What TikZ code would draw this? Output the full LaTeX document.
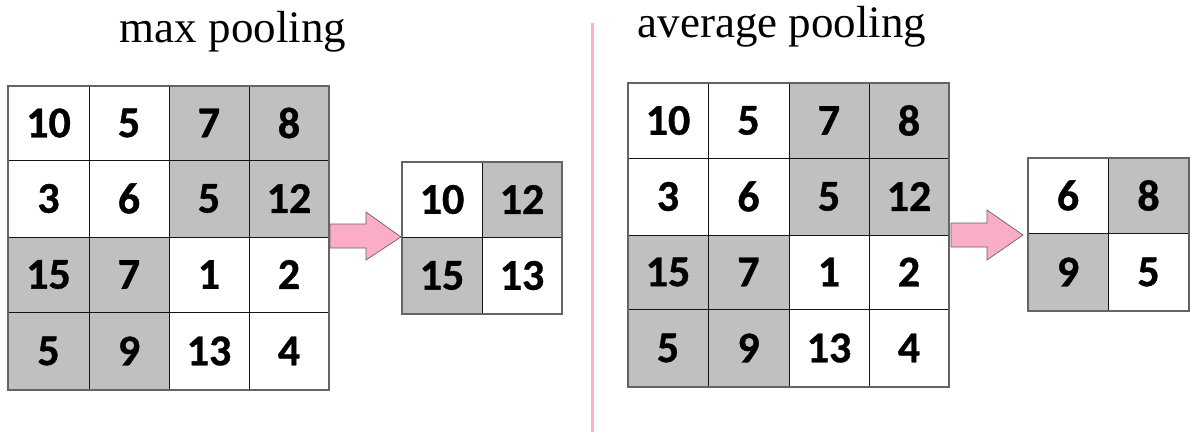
\documentclass[tikz,border=0pt]{standalone}
\usepackage{fontspec}
\setmainfont{Liberation Serif}
\newfontfamily\numfont{Carlito}[BoldFeatures={FakeBold=0.8}]
\definecolor{cellgray}{RGB}{192,192,192}
\definecolor{gridline}{RGB}{20,20,20}
\definecolor{borderline}{RGB}{100,100,100}
\definecolor{arrowpink}{RGB}{250,172,200}
\definecolor{divpink}{RGB}{255,176,202}
\newcommand{\gcell}[7]{\node[cellst,fill=#6,minimum width={#4pt-#2pt},minimum height={#5pt-#3pt}] (#1) at ({(#2+#4)/2},{(#3+#5)/2}) {#7};}
\begin{document}
\begin{tikzpicture}[x=1pt,y=-1pt,
  cellst/.style={draw=gridline,line width=0.8pt,inner sep=0pt,outer sep=0pt,font=\numfont\bfseries\fontsize{44}{44}\selectfont},
  border/.style={draw=borderline,line width=1.6pt},
  title/.style={anchor=base,inner sep=0pt,font=\fontsize{45}{45}\selectfont},
  pinkarrow/.style={fill=arrowpink,draw=borderline,line width=0.7pt,line join=miter}]
\useasboundingbox (0,0) rectangle (1192,432);
% titles
\node[title] (t1) at (233,42) {max pooling};
\node[title] (t2) at (782,37) {average pooling};
% divider
\coordinate (d1) at (592,23);
\coordinate (d2) at (592,432);
\draw[divpink,line width=3pt] (d1) -- (d2);
% left input grid
\gcell{a11}{8}{86}{89}{160}{white}{10}
\gcell{a12}{89}{86}{169}{160}{white}{5}
\gcell{a13}{169}{86}{249}{160}{cellgray}{7}
\gcell{a14}{249}{86}{329}{160}{cellgray}{8}
\gcell{a21}{8}{160}{89}{237}{white}{3}
\gcell{a22}{89}{160}{169}{237}{white}{6}
\gcell{a23}{169}{160}{249}{237}{cellgray}{5}
\gcell{a24}{249}{160}{329}{237}{cellgray}{12}
\gcell{a31}{8}{237}{89}{312}{cellgray}{15}
\gcell{a32}{89}{237}{169}{312}{cellgray}{7}
\gcell{a33}{169}{237}{249}{312}{white}{1}
\gcell{a34}{249}{237}{329}{312}{white}{2}
\gcell{a41}{8}{312}{89}{390}{cellgray}{5}
\gcell{a42}{89}{312}{169}{390}{cellgray}{9}
\gcell{a43}{169}{312}{249}{390}{white}{13}
\gcell{a44}{249}{312}{329}{390}{white}{4}
\draw[border] (a11.north west) rectangle (a44.south east);
% left output
\gcell{m11}{402}{162}{482}{237}{white}{10}
\gcell{m12}{482}{162}{562}{237}{cellgray}{12}
\gcell{m21}{402}{237}{482}{314}{cellgray}{15}
\gcell{m22}{482}{237}{562}{314}{white}{13}
\draw[border] (m11.north west) rectangle (m22.south east);
% left arrow
\draw[pinkarrow] (330,224) -- (366,224) -- (366,212) -- (401,237) -- (366,260) -- (366,248) -- (330,248) -- cycle;
% right input grid
\gcell{b11}{628}{83}{708}{158}{white}{10}
\gcell{b12}{708}{83}{789}{158}{white}{5}
\gcell{b13}{789}{83}{869}{158}{cellgray}{7}
\gcell{b14}{869}{83}{949}{158}{cellgray}{8}
\gcell{b21}{628}{158}{708}{235}{white}{3}
\gcell{b22}{708}{158}{789}{235}{white}{6}
\gcell{b23}{789}{158}{869}{235}{cellgray}{5}
\gcell{b24}{869}{158}{949}{235}{cellgray}{12}
\gcell{b31}{628}{235}{708}{309}{cellgray}{15}
\gcell{b32}{708}{235}{789}{309}{cellgray}{7}
\gcell{b33}{789}{235}{869}{309}{white}{1}
\gcell{b34}{869}{235}{949}{309}{white}{2}
\gcell{b41}{628}{309}{708}{387}{cellgray}{5}
\gcell{b42}{708}{309}{789}{387}{cellgray}{9}
\gcell{b43}{789}{309}{869}{387}{white}{13}
\gcell{b44}{869}{309}{949}{387}{white}{4}
\draw[border] (b11.north west) rectangle (b44.south east);
% right output
\gcell{v11}{1028}{158}{1108}{233}{white}{6}
\gcell{v12}{1108}{158}{1189}{233}{cellgray}{8}
\gcell{v21}{1028}{233}{1108}{311}{cellgray}{9}
\gcell{v22}{1108}{233}{1189}{311}{white}{5}
\draw[border] (v11.north west) rectangle (v22.south east);
% right arrow
\draw[pinkarrow] (951,223) -- (987,223) -- (987,210) -- (1023,235) -- (987,260) -- (987,247) -- (951,247) -- cycle;
\end{tikzpicture}
\end{document}
